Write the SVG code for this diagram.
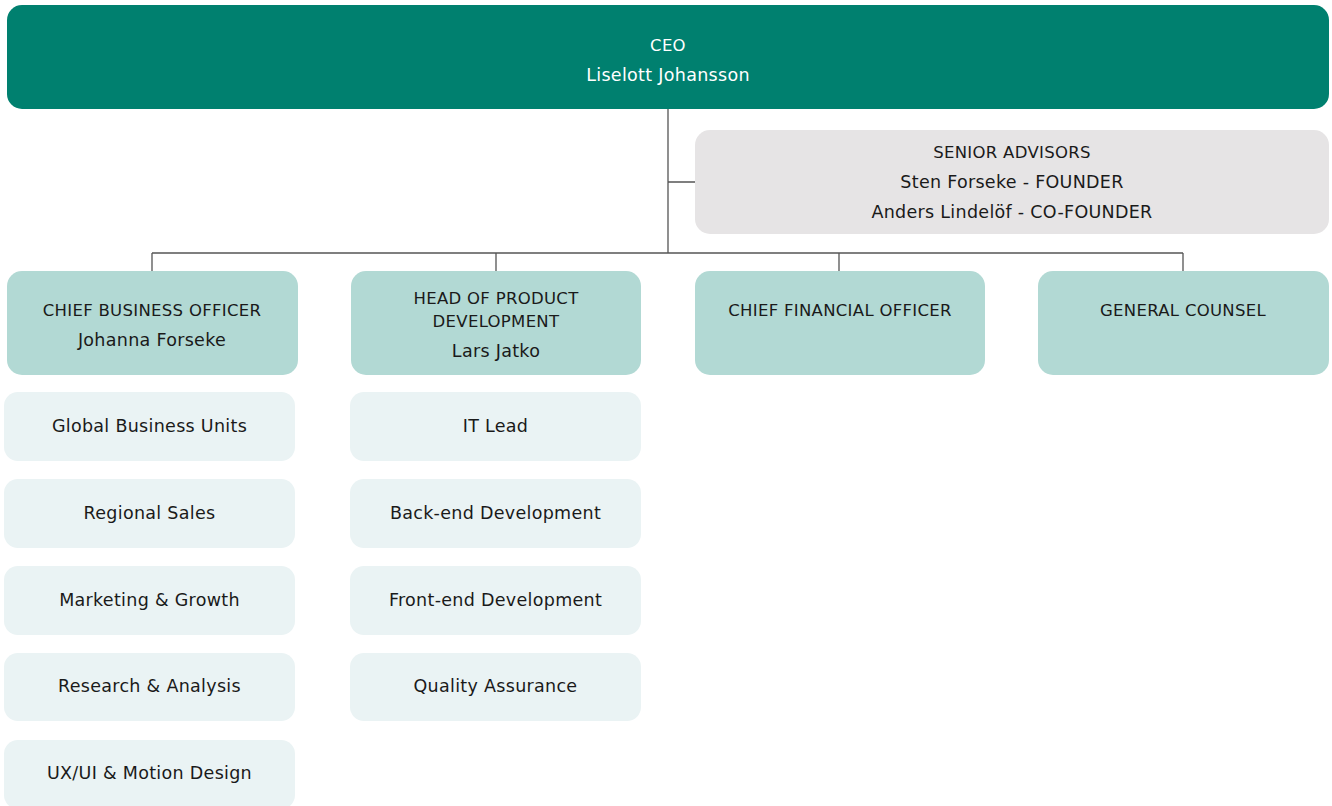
<svg xmlns="http://www.w3.org/2000/svg" width="1332" height="806" viewBox="0 0 1332 806">
<style>
text{font-family:"DejaVu Sans","Open Sans",sans-serif;font-size:17.5px;letter-spacing:0.3px;fill:#1a1a1a;text-anchor:middle;dominant-baseline:central}
text.u{font-size:16.5px}
.ceo{fill:#00806f}
.ceo-t{fill:#ffffff}
.adv{fill:#e6e4e5}
.l2{fill:#b2d9d4}
.l3{fill:#eaf3f4}
.conn{stroke:#555;stroke-width:1.3;fill:none}
</style>
<rect width="1332" height="806" fill="#ffffff"/>
<g id="connectors">
<path class="conn" d="M668 109V253M668 182H695M152 253H1183M152 253V271M496 253V271M839 253V271M1183 253V271"/>
</g>
<g id="ceo">
<rect class="ceo" x="7" y="5" width="1322" height="104" rx="15"/>
<text class="ceo-t u" x="668" y="45">CEO</text>
<text class="ceo-t" x="668" y="75">Liselott Johansson</text>
</g>
<g id="senior-advisors">
<rect class="adv" x="695" y="130" width="634" height="104" rx="15"/>
<text class="u" x="1012" y="152">SENIOR ADVISORS</text>
<text x="1012" y="182">Sten Forseke - FOUNDER</text>
<text x="1012" y="212">Anders Lindelöf - CO-FOUNDER</text>
</g>
<g id="cbo">
<rect class="l2" x="7" y="271" width="291" height="104" rx="15"/>
<text class="u" x="152" y="310">CHIEF BUSINESS OFFICER</text>
<text x="152" y="340">Johanna Forseke</text>
</g>
<g id="hpd">
<rect class="l2" x="351" y="271" width="290" height="104" rx="15"/>
<text class="u" x="496" y="298">HEAD OF PRODUCT</text>
<text class="u" x="496" y="321">DEVELOPMENT</text>
<text x="496" y="351">Lars Jatko</text>
</g>
<g id="cfo">
<rect class="l2" x="695" y="271" width="290" height="104" rx="15"/>
<text class="u" x="840" y="310">CHIEF FINANCIAL OFFICER</text>
</g>
<g id="gc">
<rect class="l2" x="1038" y="271" width="291" height="104" rx="15"/>
<text class="u" x="1183" y="310">GENERAL COUNSEL</text>
</g>
<g id="global-business-units"><rect class="l3" x="4" y="392" width="291" height="69" rx="14"/><text x="149.5" y="426">Global Business Units</text></g>
<g id="regional-sales"><rect class="l3" x="4" y="479" width="291" height="69" rx="14"/><text x="149.5" y="513">Regional Sales</text></g>
<g id="marketing-growth"><rect class="l3" x="4" y="566" width="291" height="69" rx="14"/><text x="149.5" y="600">Marketing &amp; Growth</text></g>
<g id="research-analysis"><rect class="l3" x="4" y="653" width="291" height="68" rx="14"/><text x="149.5" y="686">Research &amp; Analysis</text></g>
<g id="ux-ui-motion"><rect class="l3" x="4" y="740" width="291" height="69" rx="14"/><text x="149.5" y="773">UX/UI &amp; Motion Design</text></g>
<g id="it-lead"><rect class="l3" x="350" y="392" width="291" height="69" rx="14"/><text x="495.5" y="426">IT Lead</text></g>
<g id="back-end"><rect class="l3" x="350" y="479" width="291" height="69" rx="14"/><text x="495.5" y="513">Back-end Development</text></g>
<g id="front-end"><rect class="l3" x="350" y="566" width="291" height="69" rx="14"/><text x="495.5" y="600">Front-end Development</text></g>
<g id="qa"><rect class="l3" x="350" y="653" width="291" height="68" rx="14"/><text x="495.5" y="686">Quality Assurance</text></g>
</svg>
